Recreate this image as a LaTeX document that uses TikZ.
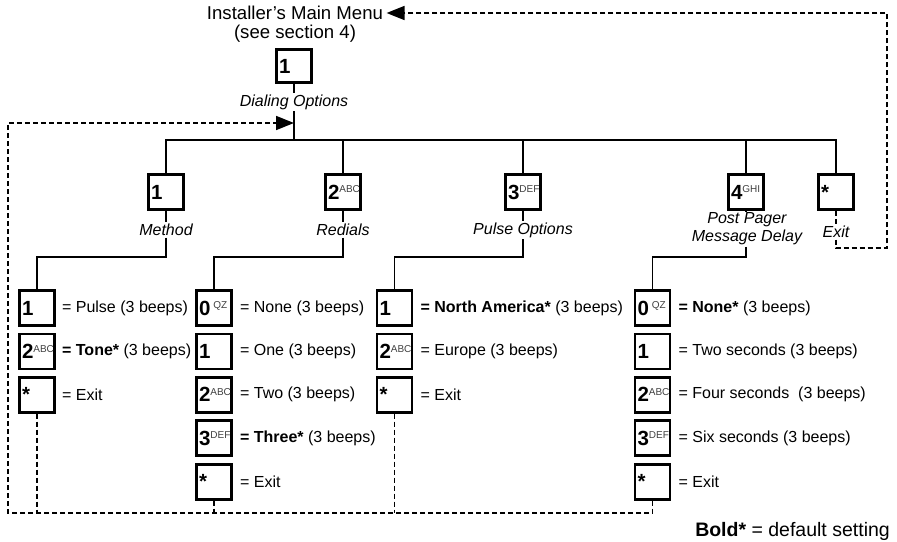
\documentclass[tikz,border=0pt]{standalone}
\usepackage{fontspec}
\setmainfont{Liberation Sans}
\usetikzlibrary{arrows.meta,positioning}
% keypad face: big bold digit, small letters raised at its right
\newcommand{\padkey}[2]{\makebox[30pt][l]{\fontsize{20.5}{20}\selectfont\bfseries #1\raisebox{6.5pt}{\fontsize{10}{10}\selectfont\mdseries\color{black!75}#2}}}

\begin{document}
\begin{tikzpicture}[x=1pt, y=-1pt,
  font=\fontsize{16}{19}\selectfont, >={Triangle[length=18pt,width=14pt]},
  pad/.style={draw, line width=2.8pt, minimum width=35pt, minimum height=35pt, inner sep=0pt, fill=white},
  note/.style={font=\fontsize{16}{18}\selectfont\itshape, inner sep=1.5pt, align=center},
  choice/.style={inner sep=0pt, anchor=west},
  head/.style={font=\fontsize{18.6}{22}\selectfont},
  link/.style={line width=1.3pt},
  back/.style={line width=1.6pt, dash pattern=on 5pt off 3pt}]
\useasboundingbox (0,0) rectangle (897,541);
\node[head] (menu) at (295,13) {Installer's Main Menu};
\node[head] (sect) at (295,34) {(see section 4)};
\node[pad, minimum height=33pt] (dial) at (294,66) {\padkey{1}{}};
\node[note] (dialL) at (294,102) {Dialing Options};
\coordinate (bus) at (294,140);
\coordinate (entry) at (294,123);
\draw[link] (dial) -- (dialL);
\draw[link] (dialL) -- (bus);
% second level
\node[pad] (meth) at (166,192) {\padkey{1}{}};
\node[pad] (redi) at (343,192) {\padkey{2}{ABC}};
\node[pad] (puls) at (523,192) {\padkey{3}{DEF}};
\node[pad] (post) at (746,192) {\padkey{4}{GHI}};
\node[pad] (quit) at (836,192) {\padkey{*}{}};
\node[note] (methL) at (166,230) {Method};
\node[note] (rediL) at (343,230) {Redials};
\node[note] (pulsL) at (523,230) {Pulse Options};
\node[note] (postL) at (747,229) {Post Pager\\Message Delay};
\node[note] (quitL) at (836,232) {Exit};
\draw[link] (meth.north) |- (bus);
\draw[link] (redi.north) |- (bus);
\draw[link] (puls.north) |- (bus);
\draw[link] (post.north) |- (bus);
\draw[link] (quit.north) |- (bus);
\draw[link] (meth) -- (methL); \draw[link] (redi) -- (rediL);
\draw[link] (puls) -- (pulsL); \draw[link] (post.south) -- (post.south |- postL.north);
% third level
\node[pad] (m1) at (37,308) {\padkey{1}{}};
\node[pad, below=5.6pt of m1] (m2) {\padkey{2}{ABC}};
\node[pad, below=5.6pt of m2] (m3) {\padkey{*}{}};
\node[choice, right=6pt of m1] (m1t) {= Pulse (3 beeps)};
\node[choice, right=6pt of m2] (m2t) {\textbf{= Tone*} (3 beeps)};
\node[choice, right=6pt of m3] (m3t) {= Exit};
\node[pad] (r1) at (214,308) {\padkey{0}{\hspace{3pt}QZ}};
\node[pad, below=5.6pt of r1] (r2) {\padkey{1}{}};
\node[pad, below=5.6pt of r2] (r3) {\padkey{2}{ABC}};
\node[pad, below=5.6pt of r3] (r4) {\padkey{3}{DEF}};
\node[pad, below=5.6pt of r4] (r5) {\padkey{*}{}};
\node[choice, right=7pt of r1] (r1t) {= None (3 beeps)};
\node[choice, right=7pt of r2] (r2t) {= One (3 beeps)};
\node[choice, right=7pt of r3] (r3t) {= Two (3 beeps)};
\node[choice, right=7pt of r4] (r4t) {\textbf{= Three*} (3 beeps)};
\node[choice, right=7pt of r5] (r5t) {= Exit};
\node[pad] (p1) at (394.5,308) {\padkey{1}{}};
\node[pad, below=5.6pt of p1] (p2) {\padkey{2}{ABC}};
\node[pad, below=5.6pt of p2] (p3) {\padkey{*}{}};
\node[choice, right=7pt of p1] (p1t) {\textbf{= North America*} (3 beeps)};
\node[choice, right=7pt of p2] (p2t) {= Europe (3 beeps)};
\node[choice, right=7pt of p3] (p3t) {= Exit};
\node[pad] (d1) at (652.5,308) {\padkey{0}{\hspace{3pt}QZ}};
\node[pad, below=5.6pt of d1] (d2) {\padkey{1}{}};
\node[pad, below=5.6pt of d2] (d3) {\padkey{2}{ABC}};
\node[pad, below=5.6pt of d3] (d4) {\padkey{3}{DEF}};
\node[pad, below=5.6pt of d4] (d5) {\padkey{*}{}};
\node[choice, right=7pt of d1] (d1t) {\textbf{= None*} (3 beeps)};
\node[choice, right=7pt of d2] (d2t) {= Two seconds (3 beeps)};
\node[choice, right=7pt of d3] (d3t) {= Four seconds\ \ (3 beeps)};
\node[choice, right=7pt of d4] (d4t) {= Six seconds (3 beeps)};
\node[choice, right=7pt of d5] (d5t) {= Exit};
\coordinate (elbow) at (0,257);
\draw[link] (methL.south) -- (methL.south |- elbow) -| (m1.north);
\draw[link] (rediL.south) -- (rediL.south |- elbow) -| (r1.north);
\draw[link] (pulsL.south) -- (pulsL.south |- elbow) -| (p1.north);
\draw[link] (post.south |- postL.south) -- (post.south |- elbow) -| (d1.north);
% exits
\coordinate (loop) at (8,513);
\coordinate (corner) at (887,248);
\draw[back, ->] (d5.south) |- (loop) |- (entry);
\draw[back] (m3.south) -- (m3.south |- loop);
\draw[back] (r5.south) -- (r5.south |- loop);
\draw[back] (p3.south) -- (p3.south |- loop);
\draw[back] (quit) -- (quitL);
\draw[back, ->] (quitL.south) |- (corner) |- (menu.east);
\node[anchor=east, inner sep=0pt, font=\fontsize{19.5}{22}\selectfont] (legend) at (890,531) {\textbf{Bold*} = default setting};
\end{tikzpicture}
\end{document}
